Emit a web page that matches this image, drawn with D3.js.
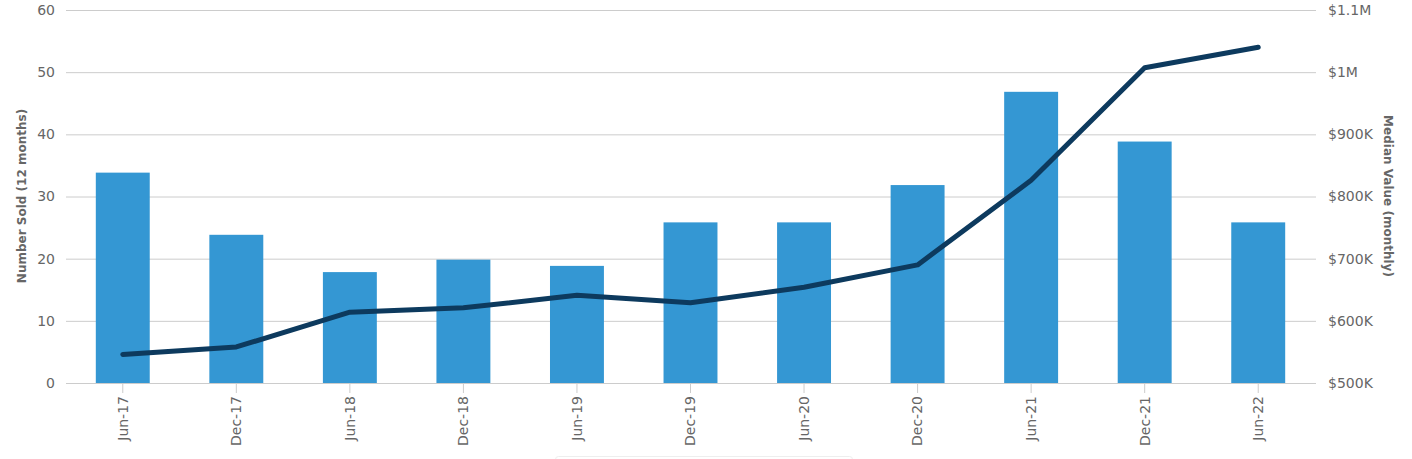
<!DOCTYPE html>
<html><head><meta charset="utf-8">
<script src="https://cdn.jsdelivr.net/npm/d3@7"></script>
<style>body{margin:0;background:#fff;}svg{display:block;font-family:"DejaVu Sans",sans-serif;}</style>
</head><body>
<svg id="c" width="1412" height="459"></svg>
<script>
const categories = ["Jun-17","Dec-17","Jun-18","Dec-18","Jun-19","Dec-19","Jun-20","Dec-20","Jun-21","Dec-21","Jun-22"];
const numberSold = [34,24,18,20,19,26,26,32,47,39,26];
const medianValue = [546,558,614,621,641,629,654,690,826,1007,1040];
const leftTicks = [0,10,20,30,40,50,60];
const rightTicks = [500,600,700,800,900,1000,1100];
const rightTickLabels = ["$500K","$600K","$700K","$800K","$900K","$1M","$1.1M"];

const svg = d3.select("#c");
const m = {l:66, r:1315, t:10, b:383};
const x = d3.scaleBand().domain(categories).range([m.l, m.r]).paddingInner(0.525).paddingOuter(0.2625);
const yL = d3.scaleLinear().domain([0,60]).range([m.b, m.t]);
const yR = d3.scaleLinear().domain([500,1100]).range([m.b, m.t]);

// gridlines
svg.append("g").selectAll("line").data(leftTicks).join("line")
  .attr("x1", m.l).attr("x2", m.r+1).attr("y1", d=>yL(d)+0.5).attr("y2", d=>yL(d)+0.5)
  .attr("stroke", "#cccccc").attr("stroke-width", 1);

// bars
svg.append("g").selectAll("rect").data(numberSold).join("rect")
  .attr("x", (d,i)=>x(categories[i])).attr("width", x.bandwidth())
  .attr("y", d=>yL(d)+1).attr("height", d=>yL(0)-yL(d)-1)
  .attr("fill", "#3497d3");

// x axis line
svg.append("line").attr("x1", m.l).attr("x2", m.r+1).attr("y1", m.b+0.5).attr("y2", m.b+0.5).attr("stroke","#cccccc");

// x axis
const xAxis = svg.append("g").attr("transform", `translate(0,${m.b})`)
  .call(d3.axisBottom(x).tickSize(10).tickSizeOuter(0));
xAxis.select(".domain").remove();
xAxis.selectAll(".tick line").attr("stroke","#cccccc");
xAxis.selectAll(".tick text")
  .attr("fill","#666666").attr("font-size","14px").attr("font-family","DejaVu Sans")
  .attr("transform","rotate(-90)").attr("text-anchor","end")
  .attr("x", -13).attr("y", 0).attr("dy","0.35em");

// left axis
const la = svg.append("g").attr("transform", `translate(${m.l},0)`)
  .call(d3.axisLeft(yL).tickValues(leftTicks).tickSize(0).tickPadding(11));
la.select(".domain").remove();
la.selectAll("text").attr("fill","#666666").attr("font-size","14px").attr("font-family","DejaVu Sans");

// right axis
const ra = svg.append("g").attr("transform", `translate(${m.r},0)`)
  .call(d3.axisRight(yR).tickValues(rightTicks).tickFormat((d,i)=>rightTickLabels[i]).tickSize(0).tickPadding(13));
ra.select(".domain").remove();
ra.selectAll("text").attr("fill","#666666").attr("font-size","14px").attr("font-family","DejaVu Sans");

// axis titles
svg.append("text").attr("transform","translate(26,196) rotate(-90)").attr("text-anchor","middle")
  .attr("font-size","12px").attr("font-weight","bold").attr("fill","#666666").text("Number Sold (12 months)");
svg.append("text").attr("transform","translate(1384,196) rotate(90)").attr("text-anchor","middle")
  .attr("font-size","12px").attr("font-weight","bold").attr("fill","#666666").text("Median Value (monthly)");

// line
const line = d3.line().x((d,i)=>x(categories[i])+x.bandwidth()/2).y(d=>yR(d));
svg.append("path").datum(medianValue).attr("d", line).attr("fill","none")
  .attr("stroke","#0d3a5e").attr("stroke-width",5).attr("stroke-linecap","round").attr("stroke-linejoin","round");

// legend box edge (cut off)
svg.append("rect").attr("x",555.5).attr("y",456.5).attr("width",297).attr("height",30).attr("rx",3)
  .attr("fill","none").attr("stroke","#eeeeee");
</script>
</body></html>
